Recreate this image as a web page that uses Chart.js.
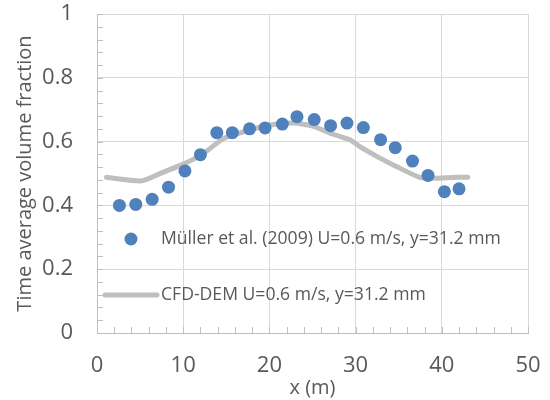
<!DOCTYPE html>
<html>
<head>
<meta charset="utf-8">
<script src="https://cdn.jsdelivr.net/npm/chart.js@4/dist/chart.umd.min.js"></script>
<style>
  html, body { margin: 0; padding: 0; background: #fff; }
</style>
</head>
<body>
<canvas id="volChart" width="550" height="400"></canvas>
<script>
// measured data (Müller et al. 2009)
const measuredX = [2.6, 4.5, 6.4, 8.3, 10.2, 12.0, 13.9, 15.7, 17.7, 19.5, 21.5, 23.2, 25.2, 27.1, 29.0, 30.9, 32.9, 34.6, 36.6, 38.4, 40.3, 42.0];
const measuredY = [0.400, 0.403, 0.419, 0.457, 0.508, 0.559, 0.628, 0.628, 0.640, 0.643, 0.655, 0.678, 0.669, 0.650, 0.658, 0.644, 0.606, 0.581, 0.539, 0.494, 0.443, 0.452];

// CFD-DEM simulation curve
const cfdX = [1.1, 5.2, 7.5, 9.8, 12.1, 14.7, 17.4, 20.1, 22.8, 25.1, 27.4, 29.4, 30.5, 32.5, 34.8, 37.5, 39.0, 41.7, 43.0];
const cfdY = [0.488, 0.477, 0.502, 0.527, 0.558, 0.610, 0.634, 0.652, 0.658, 0.648, 0.623, 0.605, 0.584, 0.553, 0.521, 0.487, 0.485, 0.488, 0.488];

const xTicks = [0, 10, 20, 30, 40, 50];
const yTicks = [0, 0.2, 0.4, 0.6, 0.8, 1];
const yTickLabels = ['0', '0.2', '0.4', '0.6', '0.8', '1'];
const xMinorStep = 2;
const yMinorStep = 0.04;

const textColor = '#595959';
const axisColor = '#BFBFBF';
const gridColor = '#D9D9D9';
const fontFamily = '"Open Sans", "Liberation Sans", sans-serif';

function toPoints(xs, ys) {
    return xs.map(function (x, i) { return { x: x, y: ys[i] }; });
}

// small inward ticks like the spreadsheet axes
const minorTicks = {
    id: 'minorTicks',
    afterDraw(chart) {
        const ctx = chart.ctx;
        const x = chart.scales.x;
        const y = chart.scales.y;
        const area = chart.chartArea;
        ctx.save();
        ctx.strokeStyle = axisColor;
        ctx.lineWidth = 1;
        ctx.beginPath();
        for (let v = x.min; v <= x.max + 1e-9; v += xMinorStep) {
            const px = Math.round(x.getPixelForValue(v)) + 0.5;
            ctx.moveTo(px, area.bottom);
            ctx.lineTo(px, area.bottom - 6);
        }
        for (let v = y.min; v <= y.max + 1e-9; v += yMinorStep) {
            const py = Math.round(y.getPixelForValue(v)) + 0.5;
            ctx.moveTo(area.left, py);
            ctx.lineTo(area.left + 6, py);
        }
        ctx.stroke();
        ctx.restore();
    }
};

// legend sits inside the plot area, lower left
const insideLegend = {
    id: 'insideLegend',
    afterDraw(chart) {
        const ctx = chart.ctx;
        const area = chart.chartArea;
        const pts = chart.data.datasets[1];
        const line = chart.data.datasets[0];
        ctx.save();
        ctx.font = '17.6px ' + fontFamily;
        ctx.fillStyle = textColor;
        ctx.textBaseline = 'middle';

        const y1 = area.top + 225;
        ctx.beginPath();
        ctx.arc(area.left + 34, y1, pts.pointRadius, 0, Math.PI * 2);
        ctx.fillStyle = pts.backgroundColor;
        ctx.fill();
        ctx.fillStyle = textColor;
        ctx.fillText(pts.label, area.left + 64, y1);

        const y2 = area.top + 281;
        ctx.beginPath();
        ctx.moveTo(area.left + 8, y2);
        ctx.lineTo(area.left + 60, y2);
        ctx.strokeStyle = line.borderColor;
        ctx.lineWidth = line.borderWidth;
        ctx.lineCap = 'round';
        ctx.stroke();
        ctx.fillText(line.label, area.left + 64, y2);
        ctx.restore();
    }
};

new Chart(document.getElementById('volChart'), {
    type: 'scatter',
    data: {
        datasets: [{
            type: 'line',
            label: 'CFD-DEM U=0.6 m/s, y=31.2 mm',
            data: toPoints(cfdX, cfdY),
            borderColor: '#BFBFBF',
            borderWidth: 5,
            borderCapStyle: 'round',
            pointRadius: 0,
            tension: 0.2,
            fill: false,
            order: 2
        }, {
            label: 'Müller et al. (2009) U=0.6 m/s, y=31.2 mm',
            data: toPoints(measuredX, measuredY),
            backgroundColor: '#4F81BD',
            borderWidth: 0,
            pointRadius: 6.5,
            order: 1
        }]
    },
    options: {
        responsive: false,
        animation: false,
        layout: { padding: { top: 14, right: 22, bottom: 0, left: 0 } },
        plugins: {
            legend: { display: false },
            tooltip: { enabled: false }
        },
        scales: {
            x: {
                type: 'linear',
                min: 0,
                max: 50,
                afterBuildTicks: function (s) { s.ticks = xTicks.map(function (v) { return { value: v }; }); },
                afterFit: function (s) {
                    s.height = 67;
                    s.paddingLeft = 0;
                    s.paddingRight = 0;
                },
                grid: { color: gridColor, drawTicks: false },
                border: { color: axisColor, width: 1 },
                ticks: {
                    padding: 20,
                    color: textColor,
                    font: { family: fontFamily, size: 22 }
                },
                title: {
                    display: true,
                    text: 'x (m)',
                    color: textColor,
                    font: { family: fontFamily, size: 20 },
                    padding: { top: 0, bottom: 0 }
                }
            },
            y: {
                min: 0,
                max: 1,
                afterBuildTicks: function (s) { s.ticks = yTicks.map(function (v) { return { value: v }; }); },
                afterFit: function (s) {
                    s.width = 97;
                    s.paddingTop = 0;
                    s.paddingBottom = 0;
                },
                grid: { color: gridColor, drawTicks: false },
                border: { color: axisColor, width: 1 },
                ticks: {
                    padding: 24,
                    color: textColor,
                    font: { family: fontFamily, size: 22 },
                    callback: function (value, index) { return yTickLabels[index]; }
                },
                title: {
                    display: true,
                    text: 'Time average volume fraction',
                    color: textColor,
                    font: { family: fontFamily, size: 20 },
                    padding: { top: 13, bottom: 0 }
                }
            }
        }
    },
    plugins: [minorTicks, insideLegend]
});
</script>
</body>
</html>
